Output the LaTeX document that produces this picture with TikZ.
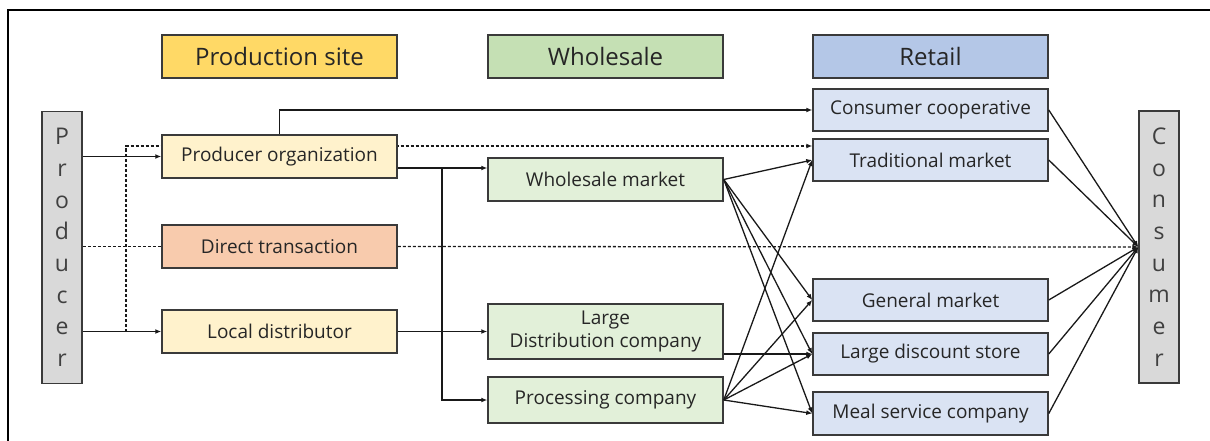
\documentclass[tikz,border=0pt]{standalone}
\usepackage{fontspec}
\setmainfont{Open Sans}
\usetikzlibrary{arrows.meta,backgrounds}

\definecolor{hdrProd}{HTML}{FFD966}
\definecolor{hdrWhole}{HTML}{C5E0B4}
\definecolor{hdrRetail}{HTML}{B4C7E7}
\definecolor{fillProd}{HTML}{FFF2CC}
\definecolor{fillDirect}{HTML}{F8CBAD}
\definecolor{fillWhole}{HTML}{E2F0D9}
\definecolor{fillRetail}{HTML}{DAE3F3}
\definecolor{fillEnd}{HTML}{D9D9D9}
\definecolor{edge}{HTML}{3A3A3A}

\tikzset{
  x=1pt, y=-1pt,
  box/.style={draw=edge, line width=1.5pt, minimum width=235pt, minimum height=43pt,
    inner sep=0pt, align=center, font=\fontsize{19}{22}\selectfont, text=black!85},
  header/.style={box, font=\fontsize{24}{28}\selectfont},
  endbox/.style={draw=edge, line width=1.5pt, fill=fillEnd, minimum width=40pt,
    minimum height=272pt, inner sep=0pt, align=center,
    font=\fontsize{23}{31.7}\selectfont, text=black!75},
  flow/.style={line width=1.3pt, draw=black!90},
  arr/.style={flow, -{Latex[length=6pt,width=5pt]}},
  dsh/.style={flow, dash pattern=on 3pt off 2pt},
}

\begin{document}
\begin{tikzpicture}
  \useasboundingbox (0,0) rectangle (1210,441);

  % outer frame (top and left edges)
  \draw[line width=2pt] (8,441) -- (8,10) -- (1210,10);

  % stage headers
  \node[header, fill=hdrProd]   (hprod)   at (279.5,56.5) {Production site};
  \node[header, fill=hdrWhole]  (hwhole)  at (605.5,56.5) {Wholesale};
  \node[header, fill=hdrRetail] (hretail) at (930.5,56.5) {Retail};

  % end points of the chain
  \node[endbox] (prod) at (62,247.5) {P\\r\\o\\d\\u\\c\\e\\r};
  \node[endbox] (cons) at (1159,247) {C\\o\\n\\s\\u\\m\\e\\r};

  % production site
  \node[box, fill=fillProd]   (po) at (279.5,156.5) {Producer organization};
  \node[box, fill=fillDirect] (dt) at (279.5,246.5) {Direct transaction};
  \node[box, fill=fillProd]   (ld) at (279.5,331.5) {Local distributor};

  % wholesale
  \node[box, fill=fillWhole] (wm)  at (605.5,179.5) {Wholesale market};
  \node[box, fill=fillWhole, minimum height=55pt, font=\fontsize{19}{23}\selectfont]
        (ldc) at (605.5,331.5) {Large\\Distribution company};
  \node[box, fill=fillWhole, minimum height=46pt] (pc) at (605.5,400) {Processing company};

  % retail
  \node[box, fill=fillRetail, minimum height=42pt] (cc)  at (930.5,110)   {Consumer cooperative};
  \node[box, fill=fillRetail, minimum height=42pt] (tm)  at (930.5,160)   {Traditional market};
  \node[box, fill=fillRetail, minimum height=42pt] (gm)  at (930.5,300)   {General market};
  \node[box, fill=fillRetail, minimum height=42pt] (lds) at (930.5,354)   {Large discount store};
  \node[box, fill=fillRetail, minimum height=43pt] (msc) at (930.5,413.5) {Meal service company};

  % direct dashed route to the traditional market, running behind the boxes
  \coordinate (dsplit) at (126,0);
  \coordinate (dtop)   at (126,146);
  \begin{scope}[on background layer]
    \draw[dsh, -{Latex[length=6pt,width=5pt]}]
      (dsplit |- ld.west) -- (dtop) -- (dtop -| tm.west);
  \end{scope}

  % producer to production site
  \draw[arr] (prod.east |- po.west) -- (po.west);
  \draw[arr] (prod.east |- ld.west) -- (ld.west);
  \draw[dsh] (prod.east |- dt.west) -- (dt.west);
  \draw[dsh, -{Latex[length=6pt,width=5pt]}] (dt.east) -- (cons.west);

  % producer organization outlets
  \draw[arr] (po.north) -- (po.north |- cc.west) -- (cc.west);
  \coordinate (poout) at ([yshift=-11.5pt]po.east);
  \coordinate (vj) at (442,168);
  \draw[arr] (poout) -- (poout -| wm.west);
  \draw[arr] (vj) |- (pc.west);

  % local distributor
  \draw[arr] (ld.east) -- (ld.east -| ldc.west);

  % wholesale to retail
  \foreach \t in {tm,gm,lds,msc} {
    \draw[arr] (wm.east) -- (\t.west);
    \draw[arr] (pc.east) -- (\t.west);
  }
  \draw[arr] (ldc.east |- lds.west) -- (lds.west);

  % retail to consumer
  \foreach \s in {cc,tm,gm,lds,msc}
    \draw[arr] (\s.east) -- (cons.west);
\end{tikzpicture}
\end{document}
